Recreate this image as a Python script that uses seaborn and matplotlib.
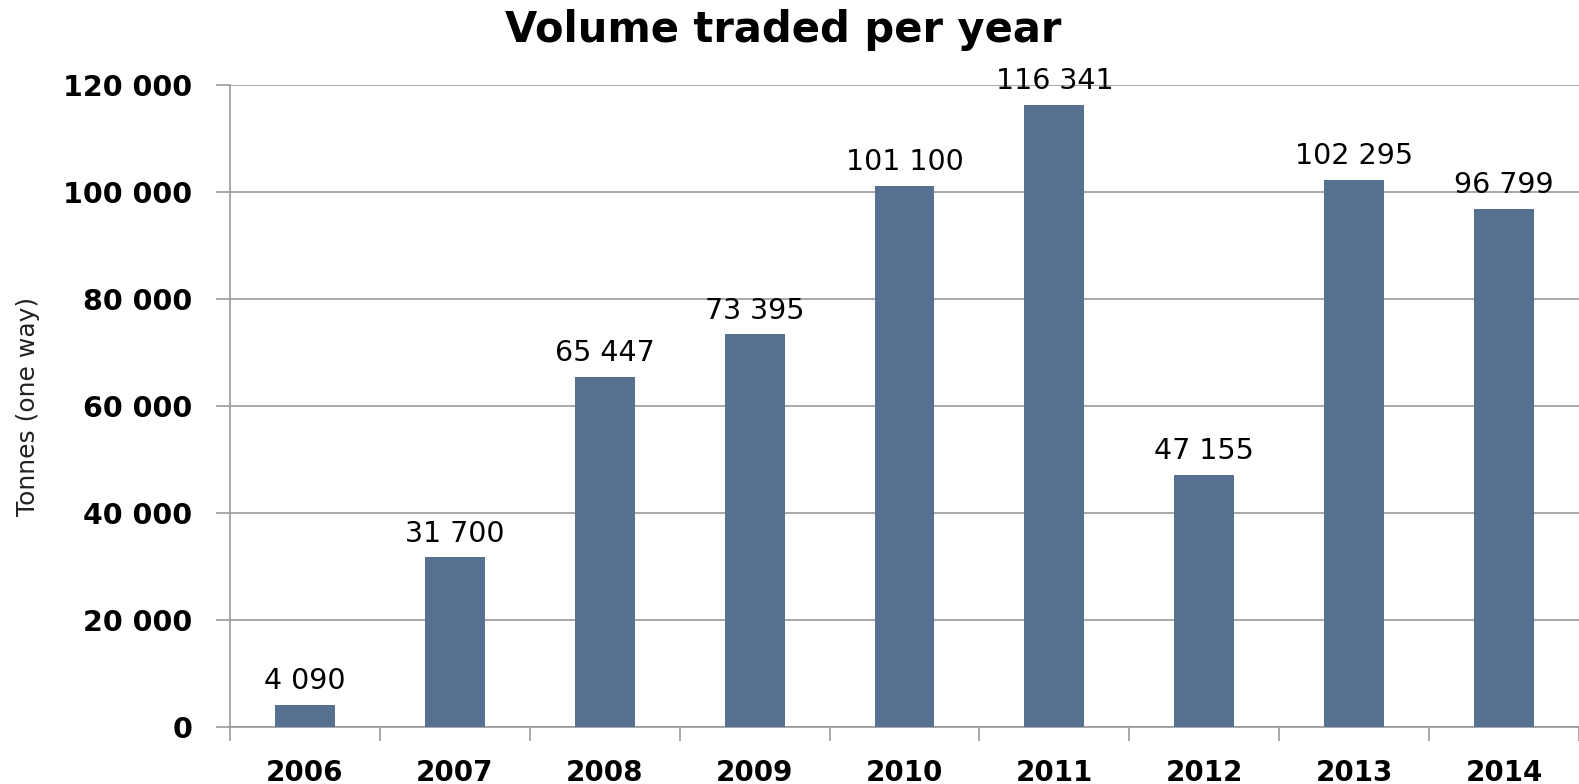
import matplotlib
matplotlib.use("Agg")
import pandas as pd
import seaborn as sns
import matplotlib.pyplot as plt
from matplotlib.ticker import FuncFormatter, FixedLocator

# data
years = ["2006", "2007", "2008", "2009", "2010", "2011", "2012", "2013", "2014"]
volumes = [4090, 31700, 65447, 73395, 101100, 116341, 47155, 102295, 96799]
y_ticks = [0, 20000, 40000, 60000, 80000, 100000, 120000]

bar_color = "#56718F"
grid_color = "#9A9A9A"


def format_thousands(y, pos=None):
    """Use a space as the thousands separator."""
    return f"{int(y):,}".replace(",", " ")


df = pd.DataFrame({"year": years, "volume": volumes})

sns.set_style("white")
plt.rcParams["font.family"] = ["DejaVu Sans"]
plt.rcParams["text.color"] = "black"

fig = plt.figure(figsize=(15.79, 7.84), dpi=100)
ax = fig.add_axes([230 / 1579, 1 - 727 / 784, 1 - 230 / 1579, (727 - 85) / 784])

sns.barplot(data=df, x="year", y="volume", color=bar_color, width=0.4,
            saturation=1, linewidth=0, ax=ax, zorder=3)

ax.set_ylim(0, 120000)
ax.set_xlim(-0.5, len(years) - 0.5)
ax.yaxis.set_major_locator(FixedLocator(y_ticks))
ax.yaxis.set_major_formatter(FuncFormatter(format_thousands))
ax.grid(axis="y", color=grid_color, linewidth=1.2, zorder=0)

# category boundary ticks on the x axis
ax.set_xticks(range(len(years)))
ax.set_xticks([i - 0.5 for i in range(len(years) + 1)], minor=True)
ax.tick_params(axis="x", which="major", bottom=True, length=0, pad=23,
               labelsize=20, labelcolor="black")
ax.tick_params(axis="x", which="minor", bottom=True, length=10, width=1.2,
               color=grid_color, direction="out")
ax.tick_params(axis="y", left=True, length=10, width=1.2, color=grid_color,
               direction="out", pad=17, labelsize=20.5, labelcolor="black")
for lbl in ax.get_xticklabels() + ax.get_yticklabels():
    lbl.set_fontweight("bold")

for side in ["top", "right"]:
    ax.spines[side].set_visible(False)
ax.spines["left"].set_color(grid_color)
ax.spines["left"].set_linewidth(1.2)
ax.spines["bottom"].set_color(grid_color)
ax.spines["bottom"].set_linewidth(1.2)

for container in ax.containers:
    ax.bar_label(container, labels=[format_thousands(v) for v in volumes],
                 padding=7, fontsize=20.5, color="black")

ax.set_xlabel("")
ax.set_ylabel("Tonnes (one way)", fontsize=18, color="#222222")
ax.yaxis.set_label_coords(-190 / 1349, 0.5)

fig.text(783 / 1579, 1 - 30 / 784, "Volume traded per year", ha="center", va="center",
         fontsize=30, fontweight="bold", color="black")

fig.savefig("out.png", dpi=100)
